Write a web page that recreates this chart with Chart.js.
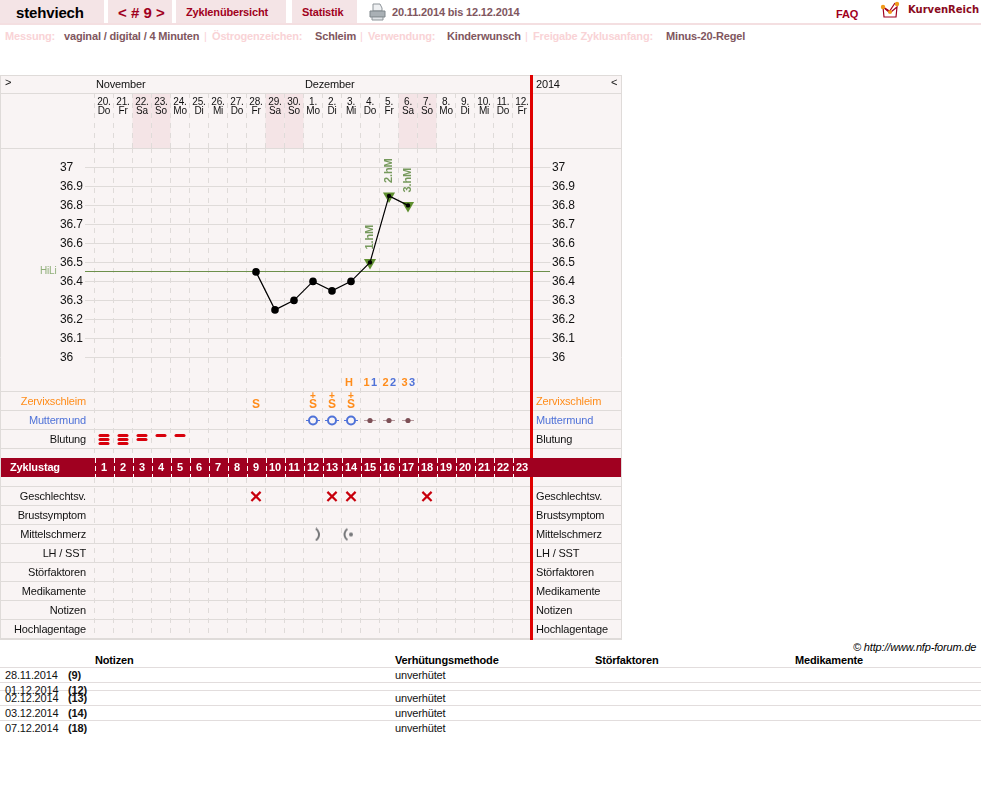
<!DOCTYPE html>
<html lang="de">
<head>
<meta charset="utf-8">
<title>stehviech - Zyklus 9</title>
<script src="https://cdn.jsdelivr.net/npm/chart.js@4"></script>
<style>
  html, body { margin: 0; padding: 0; background: #fff; }
  body { position: relative; width: 981px; height: 799px; overflow: hidden;
         font: 11px "Liberation Sans", Arial, sans-serif; color: #111; letter-spacing: -0.16px; }
  .abs { position: absolute; white-space: nowrap; line-height: 14px; }
  .tab { position: absolute; top: 0; height: 23px; background: #f4e4e6; }
  .nav { font-weight: bold; color: #a00020; }
  .lbl { font-weight: bold; color: #f9d3d6; }
  .val { font-weight: bold; color: #80565e; }
  .rule { position: absolute; left: 0; width: 981px; height: 1px; background: #e2dddd; }
  #curve { position: absolute; left: 0; top: 75px; }
</style>
</head>
<body>
<div class="tab" style="left:0;width:104px"></div>
<div class="tab" style="left:108px;width:64px"></div>
<div class="tab" style="left:176px;width:110px"></div>
<div class="tab" style="left:292px;width:65px"></div>
<div class="abs" style="left:16px;top:6px;font-size:15px;font-weight:bold;color:#000">stehviech</div>
<div class="abs nav" style="left:118px;top:6px;font-size:15px;letter-spacing:0">&lt; # 9 &gt;</div>
<div class="abs nav" style="left:186px;top:5px">Zyklenübersicht</div>
<div class="abs nav" style="left:302px;top:5px">Statistik</div>
<svg class="abs" style="left:369px;top:3px" width="17" height="18" viewBox="0 0 17 18">
  <path d="M4 1h7l2 4v3H4z" fill="#eef0f2" stroke="#8d9499"/>
  <path d="M1 8h15v6H1z" fill="#a9b0b5" stroke="#7e868b"/>
  <path d="M3 14h11v3H3z" fill="#dfe3e6" stroke="#8d9499"/>
</svg>
<div class="abs val" style="left:392px;top:5px">20.11.2014 bis 12.12.2014</div>
<div class="abs nav" style="left:836px;top:7px">FAQ</div>
<svg class="abs" style="left:880px;top:1px" width="22" height="18" viewBox="0 0 22 18">
  <path d="M3 6l1 10h12l1-10-6 5z" fill="#fff" stroke="#a00020" stroke-width="1.2"/>
  <path d="M3 6l6 5 6-9" fill="none" stroke="#a00020" stroke-width="1.2"/>
  <circle cx="3" cy="6" r="2.2" fill="#f09a1a"/><circle cx="10" cy="11" r="2" fill="#f09a1a"/><circle cx="17" cy="3" r="2.2" fill="#f09a1a"/>
</svg>
<div class="abs" style="left:908px;top:3px;font:bold 10px/14px 'DejaVu Sans',sans-serif;color:#8a0a20;letter-spacing:0">KurvenReich</div>
<div class="abs" style="left:0;top:23px;width:981px;height:2px;background:#f4dfe1"></div>

<div class="abs lbl" style="left:5px;top:29px">Messung:</div>
<div class="abs val" style="left:64px;top:29px">vaginal / digital / 4 Minuten</div>
<div class="abs lbl" style="left:204px;top:29px;font-weight:normal">|</div>
<div class="abs lbl" style="left:212px;top:29px">Östrogenzeichen:</div>
<div class="abs val" style="left:315px;top:29px">Schleim</div>
<div class="abs lbl" style="left:360px;top:29px;font-weight:normal">|</div>
<div class="abs lbl" style="left:368px;top:29px">Verwendung:</div>
<div class="abs val" style="left:447px;top:29px">Kinderwunsch</div>
<div class="abs lbl" style="left:525px;top:29px;font-weight:normal">|</div>
<div class="abs lbl" style="left:533px;top:29px">Freigabe Zyklusanfang:</div>
<div class="abs val" style="left:666px;top:29px">Minus-20-Regel</div>

<!-- the y axes reserve 9px below the chart area, hence 574 for a 565px tall table -->
<canvas id="curve" width="622" height="574"></canvas>

<div class="abs" style="left:853px;top:640px;font-style:italic;color:#000">© http://www.nfp-forum.de</div>
<div id="notes"></div>

<script>
// cycle days and calendar header
const cycleDays = ['1','2','3','4','5','6','7','8','9','10','11','12','13','14','15','16','17','18','19','20','21','22','23'];
const dateLabels = ['20.','21.','22.','23.','24.','25.','26.','27.','28.','29.','30.','1.','2.','3.','4.','5.','6.','7.','8.','9.','10.','11.','12.'];
const weekdayLabels = ['Do','Fr','Sa','So','Mo','Di','Mi','Do','Fr','Sa','So','Mo','Di','Mi','Do','Fr','Sa','So','Mo','Di','Mi','Do','Fr'];
const weekendDays = [3, 4, 10, 11, 17, 18];
const monthNames = ['November', 'Dezember'];
const monthStartDays = [1, 12];

// temperature curve
const temperatures = [null, null, null, null, null, null, null, null, 36.45, 36.25, 36.3, 36.4, 36.35, 36.4, 36.5, 36.85, 36.8, null, null, null, null, null, null];
const tempTicks = [37, 36.9, 36.8, 36.7, 36.6, 36.5, 36.4, 36.3, 36.2, 36.1, 36];
const coverLine = 36.45;
const highDays = [15, 16, 17];
const highLabels = ['1.hM', '2.hM', '3.hM'];

// symptom rows, positioned on the "rows" axis
const rowLabels = ['Zervixschleim', 'Muttermund', 'Blutung', 'Geschlechtsv.', 'Brustsymptom', 'Mittelschmerz', 'LH / SST', 'Störfaktoren', 'Medikamente', 'Notizen', 'Hochlagentage'];
const rowSlots = [0, 1, 2, 5, 6, 7, 8, 9, 10, 11, 12];
const rowColors = ['#ff8c1a', '#4f72d8', '#111', '#111', '#111', '#111', '#111', '#111', '#111', '#111', '#111'];
const cycleDaySlot = 3.474;
const peakSlot = -1;

const peakDays = [14, 15, 15, 16, 16, 17, 17];
const peakTexts = ['H', '1', '1', '2', '2', '3', '3'];
const peakColors = ['#ff8c1a', '#ff8c1a', '#4f72d8', '#ff8c1a', '#4f72d8', '#ff8c1a', '#4f72d8'];
const peakShift = [-2, -3.5, 4, -3.5, 4, -3.5, 4];

const mucusDays = [9, 12, 13, 14];
const mucusPlus = [false, true, true, true];
const cervixOpenDays = [12, 13, 14];
const cervixClosedDays = [15, 16, 17];
const bleedDays = [1, 2, 3, 4, 5];
const bleedLevels = [3, 3, 2, 1, 1];
const sexDays = [9, 13, 14, 18];
const painRightDays = [12];
const painLeftDays = [14];

// notes table underneath
const noteDates = ['28.11.2014', '01.12.2014', '02.12.2014', '03.12.2014', '07.12.2014'];
const noteDays = ['(9)', '(12)', '(13)', '(14)', '(18)'];
const noteMethods = ['unverhütet', '', 'unverhütet', 'unverhütet', 'unverhütet'];
const noteTops = [668, 683, 691, 706, 721];
const noteHeads = ['Notizen', 'Verhütungsmethode', 'Störfaktoren', 'Medikamente'];
const noteHeadLeft = [95, 395, 595, 795];
const noteRules = [667, 682, 690, 705, 720];

const GRID = '#dfdbd9';
const PANEL = '#f9f4f4';
const FONT = '"Liberation Sans", Arial, sans-serif';
const TIGHT = '-0.16px';

function buildNotes() {
  const host = document.getElementById('notes');
  let html = '';
  noteHeads.forEach((h, i) => {
    html += `<div class="abs" style="left:${noteHeadLeft[i]}px;top:653px;font-weight:bold;color:#000">${h}</div>`;
  });
  noteRules.forEach((y) => { html += `<div class="rule" style="top:${y}px"></div>`; });
  noteDates.forEach((d, i) => {
    html += `<div class="abs" style="left:5px;top:${noteTops[i]}px">${d}</div>`;
    html += `<div class="abs" style="left:68px;top:${noteTops[i]}px;font-weight:bold">${noteDays[i]}</div>`;
    html += `<div class="abs" style="left:395px;top:${noteTops[i]}px">${noteMethods[i]}</div>`;
  });
  host.innerHTML = html;
}

// small bitmaps used as point styles
function makeIcon(w, h, paint) {
  const c = document.createElement('canvas');
  c.width = w;
  c.height = h;
  paint(c.getContext('2d'));
  return c;
}

const bleedIcon = makeIcon(12, 3, (g) => {
  g.fillStyle = '#d8000c';
  g.beginPath();
  g.roundRect(0.5, 0, 11, 3, 1.5);
  g.fill();
});

const painRightIcon = makeIcon(14, 14, (g) => {
  g.strokeStyle = '#77787a';
  g.lineWidth = 2;
  g.beginPath();
  g.arc(6, 7, 7, -1, 1);
  g.stroke();
});

const painLeftIcon = makeIcon(18, 14, (g) => {
  g.strokeStyle = '#77787a';
  g.fillStyle = '#77787a';
  g.lineWidth = 2;
  g.beginPath();
  g.arc(9, 7, 6.5, Math.PI - 1, Math.PI + 1);
  g.stroke();
  g.beginPath();
  g.arc(9, 7, 2, 0, Math.PI * 2);
  g.fill();
});

function rowPoints(days, slot) {
  return days.map((d) => ({ x: String(d), y: slot }));
}

function bleedPoints() {
  const pts = [];
  bleedDays.forEach((d, i) => {
    for (let k = 0; k < bleedLevels[i]; k++) {
      pts.push({ x: String(d), y: 2 + (k - 1) * (4 / 19) });
    }
  });
  return pts;
}

const markBase = { type: 'line', showLine: false, yAxisID: 'rows', pointBorderWidth: 0 };

// table frame, shaded weekends and the side captions
const tablePlugin = {
  id: 'cycleTable',
  beforeDraw(chart) {
    const { ctx, width } = chart;
    const { x, y } = chart.scales;
    ctx.save();
    ctx.fillStyle = PANEL;
    ctx.fillRect(1, 0, width - 2, y.bottom);
    ctx.fillStyle = '#f4e4e6';
    weekendDays.forEach((d) => {
      ctx.fillRect(x.getPixelForValue(d - 1) - 9.5, 18, 19, x.bottom - 18);
    });
    ctx.restore();
  },
  beforeDatasetsDraw(chart) {
    const { ctx, width } = chart;
    const { x, y, rows, y2 } = chart.scales;
    const height = y.bottom;
    const dayX = (d) => x.getPixelForValue(d - 1);
    const hLine = (py, x0, x1, color) => {
      ctx.strokeStyle = color;
      ctx.beginPath();
      ctx.moveTo(x0, Math.floor(py) + 0.5);
      ctx.lineTo(x1, Math.floor(py) + 0.5);
      ctx.stroke();
    };
    ctx.save();
    ctx.lineWidth = 1;

    // frame
    [0, 18, x.bottom, height - 1].forEach((py) => hLine(py, 0, width, GRID));
    rowSlots.forEach((s) => {
      hLine(rows.getPixelForValue(s - 0.5), 0, width, GRID);
      hLine(rows.getPixelForValue(s + 0.5), 0, width, GRID);
    });
    ctx.strokeStyle = GRID;
    ctx.beginPath();
    ctx.moveTo(0.5, 0);
    ctx.lineTo(0.5, height);
    ctx.moveTo(width - 0.5, 0);
    ctx.lineTo(width - 0.5, height);
    ctx.stroke();

    // cover line with its caption
    const coverY = y.getPixelForValue(coverLine);
    hLine(coverY, 85, 550, '#6d8f4a');
    ctx.fillStyle = '#8fae78';
    ctx.font = `10px ${FONT}`;
    ctx.textBaseline = 'middle';
    ctx.textAlign = 'left';
    ctx.fillText('HiLi', 40, coverY - 1);

    // end of cycle marker
    ctx.fillStyle = '#e00000';
    ctx.fillRect(y2.left - 1.5, 0, 3, height);

    // cycle day band
    const bandY = rows.getPixelForValue(cycleDaySlot);
    ctx.fillStyle = '#a00020';
    ctx.fillRect(1, bandY - 9.5, width - 2, 19);
    ctx.strokeStyle = '#fff';
    ctx.setLineDash([5, 3]);
    ctx.beginPath();
    for (let i = 0; i < cycleDays.length; i++) {
      const bx = Math.round(dayX(i + 1) - 9.5) + 0.5;
      ctx.moveTo(bx, bandY - 9.5);
      ctx.lineTo(bx, bandY + 9.5);
    }
    ctx.stroke();
    ctx.setLineDash([]);
    ctx.fillStyle = '#fff';
    ctx.font = `bold 11px ${FONT}`;
    ctx.textAlign = 'left';
    ctx.fillText('Zyklustag', 10, bandY + 0.5);
    ctx.textAlign = 'center';
    cycleDays.forEach((d, i) => ctx.fillText(d, dayX(i + 1), bandY + 0.5));

    // head row
    ctx.letterSpacing = TIGHT;
    ctx.fillStyle = '#111';
    ctx.font = `11px ${FONT}`;
    ctx.textAlign = 'left';
    monthNames.forEach((m, i) => ctx.fillText(m, dayX(monthStartDays[i]) - 8, 10));
    ctx.fillText('2014', y2.left + 4.5, 10);
    ctx.fillText('>', 5, 8);
    ctx.fillText('<', 611, 8);

    // row captions on both sides
    rowLabels.forEach((label, i) => {
      const ry = rows.getPixelForValue(rowSlots[i]);
      ctx.fillStyle = rowColors[i];
      ctx.textAlign = 'right';
      ctx.fillText(label, 86, ry);
      ctx.textAlign = 'left';
      ctx.fillText(label, y2.left + 4.5, ry);
    });
    ctx.letterSpacing = '0px';

    // peak day counters above the mucus row
    ctx.font = `bold 11px ${FONT}`;
    ctx.textAlign = 'center';
    peakTexts.forEach((t, i) => {
      ctx.fillStyle = peakColors[i];
      ctx.fillText(t, dayX(peakDays[i]) + peakShift[i], rows.getPixelForValue(peakSlot));
    });

    // mucus marks
    ctx.fillStyle = '#ff8c1a';
    mucusDays.forEach((d, i) => {
      const my = rows.getPixelForValue(0);
      ctx.font = `bold 12px ${FONT}`;
      ctx.fillText('S', dayX(d), my + 3);
      if (mucusPlus[i]) {
        ctx.font = `bold 10px ${FONT}`;
        ctx.fillText('+', dayX(d), my - 5.5);
      }
    });
    ctx.restore();
  },
  afterDatasetsDraw(chart) {
    const { ctx } = chart;
    const { x, y } = chart.scales;
    // labels of the three high readings, written upwards
    ctx.save();
    ctx.fillStyle = '#76995c';
    ctx.font = `bold 11px ${FONT}`;
    ctx.textAlign = 'left';
    ctx.textBaseline = 'middle';
    highDays.forEach((d, i) => {
      ctx.save();
      ctx.translate(x.getPixelForValue(d - 1), y.getPixelForValue(temperatures[d - 1]) - 13);
      ctx.rotate(-Math.PI / 2);
      ctx.fillText(highLabels[i], 0, 0);
      ctx.restore();
    });
    ctx.restore();
  },
};

function useTempTicks(scale) {
  scale.ticks = tempTicks.map((v) => ({ value: v }));
}

const tempAxis = {
  axis: 'y',
  min: 34.5125,
  max: 37.102,
  afterBuildTicks: useTempTicks,
  border: { display: false },
};

buildNotes();

new Chart(document.getElementById('curve'), {
  type: 'line',
  data: {
    labels: cycleDays,
    datasets: [
      {
        data: temperatures,
        yAxisID: 'y',
        borderColor: '#000',
        borderWidth: 1.2,
        tension: 0,
        pointBackgroundColor: '#000',
        pointBorderWidth: 0,
        pointRadius: (c) => (highDays.includes(c.dataIndex + 1) ? 2.2 : 3.8),
        order: 1,
      },
      {
        type: 'line',
        showLine: false,
        yAxisID: 'y',
        data: highDays.map((d) => ({ x: String(d), y: temperatures[d - 1] })),
        pointStyle: 'triangle',
        pointRotation: 180,
        pointRadius: 7,
        pointBorderWidth: 0,
        pointBackgroundColor: '#5f8f2f',
        order: 2,
      },
      { ...markBase, data: bleedPoints(), pointStyle: bleedIcon },
      {
        ...markBase,
        data: rowPoints(cervixOpenDays, 1),
        pointStyle: 'line',
        pointRadius: 7,
        pointBorderWidth: 1,
        pointBorderColor: '#4f72d8',
        order: 1,
      },
      {
        ...markBase,
        data: rowPoints(cervixOpenDays, 1),
        pointStyle: 'circle',
        pointRadius: 4,
        pointBorderWidth: 2,
        pointBorderColor: '#4f72d8',
        pointBackgroundColor: PANEL,
        order: 0,
      },
      {
        ...markBase,
        data: rowPoints(cervixClosedDays, 1),
        pointStyle: 'line',
        pointRadius: 6,
        pointBorderWidth: 1,
        pointBorderColor: '#b79a9e',
        order: 1,
      },
      {
        ...markBase,
        data: rowPoints(cervixClosedDays, 1),
        pointStyle: 'circle',
        pointRadius: 2.6,
        pointBackgroundColor: '#7d4f55',
        order: 0,
      },
      {
        ...markBase,
        data: rowPoints(sexDays, 5),
        pointStyle: 'crossRot',
        pointRadius: 6.5,
        pointBorderWidth: 2.2,
        pointBorderColor: '#c8000c',
      },
      { ...markBase, data: rowPoints(painRightDays, 7), pointStyle: painRightIcon },
      { ...markBase, data: rowPoints(painLeftDays, 7), pointStyle: painLeftIcon },
    ],
  },
  options: {
    responsive: false,
    animation: false,
    events: [],
    layout: { autoPadding: false, padding: { left: 60, right: 0, top: 0, bottom: 0 } },
    plugins: { legend: { display: false }, tooltip: { enabled: false } },
    scales: {
      x: {
        position: 'top',
        offset: true,
        afterFit: (scale) => { scale.height = 73; },
        grid: {
          offset: true,
          color: GRID,
          tickColor: GRID,
          tickLength: 55,
          tickBorderDash: [5, 5],
        },
        border: { display: false, dash: [5, 5] },
        ticks: {
          autoSkip: false,
          maxRotation: 0,
          padding: -23.5,
          color: '#111',
          font: { family: FONT, size: 10, lineHeight: 0.98 },
          callback: (v, i) => [dateLabels[i], weekdayLabels[i]],
        },
      },
      y: {
        ...tempAxis,
        position: 'left',
        afterFit: (scale) => { scale.width = 34.5; },
        grid: { color: GRID, tickColor: GRID, tickLength: 9.5 },
        ticks: {
          autoSkip: false,
          crossAlign: 'far',
          color: '#111',
          font: { family: FONT, size: 12, lineHeight: 1 },
          callback: (v) => String(v),
        },
      },
      y2: {
        ...tempAxis,
        position: 'right',
        afterFit: (scale) => { scale.width = 90.5; },
        grid: { drawOnChartArea: false, color: GRID, tickColor: GRID, tickLength: 19 },
        ticks: {
          autoSkip: false,
          padding: 1.5,
          color: '#111',
          font: { family: FONT, size: 12, lineHeight: 1 },
          callback: (v) => String(v),
        },
      },
      rows: {
        axis: 'y',
        display: false,
        reverse: true,
        min: -13.342,
        max: 12.553,
      },
    },
  },
  plugins: [tablePlugin],
});
</script>
</body>
</html>
